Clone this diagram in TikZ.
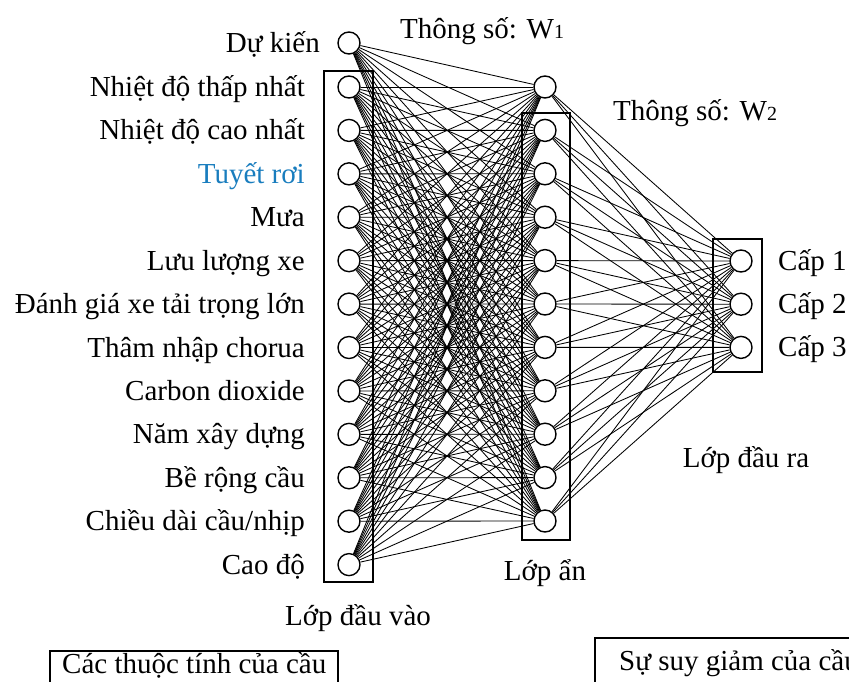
\documentclass[tikz,border=0pt]{standalone}
\usepackage{fontspec}
\setmainfont{Liberation Serif}
\definecolor{snowblue}{RGB}{25,125,190}
\begin{document}
\begin{tikzpicture}[x=1pt,y=-1pt,
  font=\fontsize{29}{34}\selectfont,
  neuron/.style={circle,draw,line width=1.4pt,minimum size=22pt,inner sep=0pt,fill=white},
  layerbox/.style={draw,line width=1.4pt},
  link/.style={line width=0.85pt},
  lbl/.style={anchor=base east,inner sep=0pt},
  rlbl/.style={anchor=base west,inner sep=0pt},
  clbl/.style={anchor=base,inner sep=0pt}]
\useasboundingbox (0,0) rectangle (849,681);
\clip (0,0) rectangle (849,681);

% layer boxes
\draw[layerbox] (324,71) rectangle (373,582);
\draw[layerbox] (522,113) rectangle (570,540);
\draw[layerbox] (713,239) rectangle (762,372);

% neurons
\node[neuron] (i0) at (349,43) {};
\foreach \k in {1,...,12} \node[neuron] (i\k) at (349,{87+43.42*(\k-1)}) {};
\foreach \k in {0,...,10} \node[neuron] (h\k) at (545,{87+43.4*\k}) {};
\foreach \k in {1,2,3} \node[neuron] (o\k) at (741,{261+43.2*(\k-1)}) {};

% connections
\foreach \a in {0,...,12} \foreach \b in {0,...,10} \draw[link] (i\a) -- (h\b);
\foreach \b in {0,...,10} \foreach \c in {1,2,3} \draw[link] (h\b) -- (o\c);

% input labels
\node[lbl] (l0) at (320,52) {Dự kiến};
\foreach \t [count=\k] in {Nhiệt độ thấp nhất,Nhiệt độ cao nhất,{\color{snowblue}Tuyết rơi},Mưa,Lưu lượng xe,Đánh giá xe tải trọng lớn,Thâm nhập chorua,Carbon dioxide,Năm xây dựng,Bề rộng cầu,Chiều dài cầu/nhịp,Cao độ}
  \node[lbl] (l\k) at (305,{87+43.42*(\k-1)+9.5}) {\t};

% output labels
\foreach \k in {1,2,3} \node[rlbl] (c\k) at (778,{261+43.2*(\k-1)+9.5}) {Cấp \k};

% parameter labels
\node[rlbl] (w1) at (400,38) {Thông số: W{\fontsize{20}{20}\selectfont 1}};
\node[rlbl] (w2) at (613,120) {Thông số: W{\fontsize{20}{20}\selectfont 2}};

% layer names
\node[clbl] (hidname) at (545,580) {Lớp ẩn};
\node[clbl] (inname) at (358,625) {Lớp đầu vào};
\node[clbl] (outname) at (746,467) {Lớp đầu ra};

% bottom boxes
\draw[line width=1.2pt] (50,651) rectangle (338,720);
\node[rlbl] (attr) at (62,673) {Các thuộc tính của cầu};
\draw[line width=1.2pt] (595,638) rectangle (900,720);
\node[rlbl] (deg) at (619,670) {Sự suy giảm của cầu};
\end{tikzpicture}
\end{document}
